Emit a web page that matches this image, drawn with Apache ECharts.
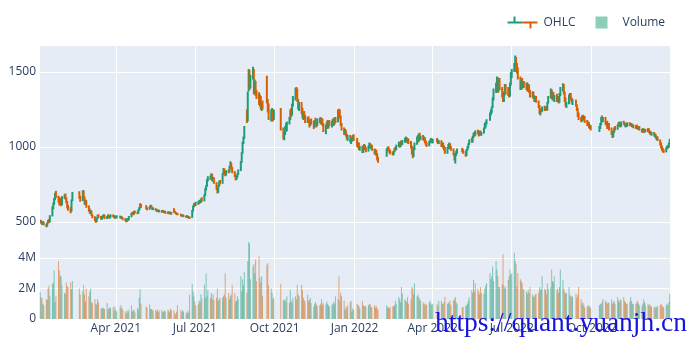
<!DOCTYPE html>
<html><head><meta charset="utf-8">
<script src="https://cdn.jsdelivr.net/npm/echarts@6/dist/echarts.min.js"></script>
<style>html,body{margin:0;padding:0;background:#fff}#c{width:700px;height:350px}</style>
</head><body><div id="c"></div>
<script>
// ---- trading calendar (A-share), first/last day and exchange holidays on weekdays ----
const firstDay = '2021-01-04';
const lastDay = '2022-12-30';
const holidays = ['2021-01-01','2021-02-11','2021-02-12','2021-02-15','2021-02-16','2021-02-17','2021-04-05',
  '2021-05-03','2021-05-04','2021-05-05','2021-06-14','2021-09-20','2021-09-21','2021-10-01','2021-10-04',
  '2021-10-05','2021-10-06','2021-10-07','2022-01-03','2022-01-31','2022-02-01','2022-02-02','2022-02-03',
  '2022-02-04','2022-04-04','2022-04-05','2022-05-02','2022-05-03','2022-05-04','2022-06-03','2022-09-12',
  '2022-10-03','2022-10-04','2022-10-05','2022-10-06','2022-10-07'];

// x tick labels (quarter starts)
const tickDates = ['2021-04-01','2021-07-01','2021-10-01','2022-01-01','2022-04-01','2022-07-01','2022-10-01'];
const priceTicks = [500, 1000, 1500];
const volumeTicks = [0, 2, 4];

// ---- daily [open, high, low, close] ----
const ohlc2021 = [
// Jan
[500,515,492,508],[508,512,490,495],[495,500,480,488],[488,505,482,500],[500,503,478,482],
[482,488,465,472],[472,498,470,495],[495,515,490,510],[510,520,495,500],[500,545,498,540],
[540,605,538,600],[600,630,585,622],[622,660,615,655],[655,695,645,688],[688,708,660,670],
[670,675,630,640],[640,665,610,625],[625,660,620,655],[655,662,605,615],[615,672,612,665],
// Feb
[665,685,655,680],[680,690,650,655],[655,665,625,630],[630,640,590,600],[600,615,575,585],
[585,600,558,575],[575,650,570,645],[645,700,640,695],
[700,705,655,665],[665,675,635,645],
[645,712,640,705],[705,710,655,665],[665,670,615,625],[625,650,615,640],[640,645,595,605],
// Mar
[605,610,570,578],[578,590,555,560],[560,580,555,572],[572,575,540,545],[545,550,525,535],
[535,538,505,510],[510,515,495,502],[502,530,500,525],[525,548,520,545],[545,550,528,535],
[535,540,515,520],[520,535,515,530],[530,545,525,540],[540,552,535,545],[545,548,520,525],
[525,540,520,535],[535,550,530,545],[545,548,525,530],[530,540,522,535],[535,550,530,545],
[545,550,532,540],[540,545,525,530],[530,542,525,535],
// Apr
[535,540,522,528],[528,545,525,540],
[540,542,525,530],[530,540,522,535],[535,538,520,525],[525,530,512,520],
[520,525,505,512],[512,515,498,505],[505,525,502,520],[520,525,508,515],[515,540,512,535],
[535,560,532,555],[555,568,548,560],[560,565,545,552],[552,575,550,570],[570,575,558,565],
[565,570,552,560],[560,585,555,580],[580,600,575,595],[595,625,590,615],[615,620,595,600],
// May
[605,612,585,590],[590,598,578,585],
[585,605,582,600],[600,615,595,610],[610,612,590,595],[595,600,580,585],[585,595,580,590],
[590,592,575,580],[580,585,568,575],[575,585,570,580],[580,582,565,570],[570,580,565,575],
[575,578,562,568],[568,580,565,575],[575,578,560,565],[565,575,560,570],[570,572,555,560],
[560,570,555,565],
// Jun
[565,568,552,558],[558,570,555,565],[565,568,550,555],[555,565,550,560],
[588,592,562,570],[570,575,560,565],[565,568,552,558],[558,562,548,555],[555,560,545,550],
[550,555,538,545],[545,550,535,540],[540,550,535,546],[546,548,532,538],
[538,542,528,535],[535,545,530,540],[540,542,525,530],[530,538,525,534],[534,536,520,528],
[530,580,528,575],[575,610,570,605],[605,625,598,620],
// Jul
[620,628,605,612],[612,635,608,630],
[630,638,615,625],[625,645,620,640],[640,648,625,632],[632,655,628,650],[650,665,635,640],
[640,685,638,680],[680,725,675,720],[720,745,710,740],[740,785,735,780],[780,805,770,800],
[800,810,780,790],[790,825,785,815],[815,820,770,780],[780,800,770,795],[795,798,755,760],
[760,765,715,720],[720,728,690,700],[700,745,695,740],[740,775,735,770],[770,780,750,760],
// Aug
[760,825,755,820],[820,860,815,850],[850,858,820,830],[830,840,805,815],[815,845,810,840],
[840,850,825,835],[835,875,830,870],[870,905,862,890],[890,895,850,860],[860,868,825,835],
[835,840,800,810],[810,815,778,785],[785,805,780,800],[800,825,795,820],[820,850,815,845],
[845,905,840,900],[900,965,895,960],[960,1035,955,1030],[1030,1070,1020,1060],[1060,1140,1055,1130],
[1190,1250,1160,1170],[1175,1370,1170,1360],
// Sep
[1380,1520,1370,1470],[1490,1515,1380,1400],[1400,1480,1390,1460],
[1460,1535,1450,1510],[1510,1520,1350,1370],[1370,1450,1355,1430],[1430,1440,1340,1355],[1355,1380,1320,1345],
[1345,1365,1280,1300],[1300,1350,1270,1330],[1330,1340,1250,1270],[1270,1300,1240,1290],[1290,1310,1250,1260],
[1460,1475,1290,1300],[1300,1320,1230,1250],[1250,1290,1180,1190],
[1190,1250,1170,1230],[1230,1260,1180,1240],[1240,1250,1170,1185],[1185,1250,1180,1240],
// Oct
[1250,1260,1110,1120],
[1120,1130,1050,1070],[1070,1100,1045,1090],[1090,1140,1080,1130],[1130,1160,1100,1110],[1110,1170,1105,1160],
[1160,1200,1150,1190],[1190,1250,1180,1240],[1240,1260,1200,1215],[1215,1290,1210,1280],[1280,1340,1270,1320],
[1320,1395,1310,1380],[1380,1400,1330,1350],[1350,1390,1300,1310],[1310,1320,1250,1270],[1270,1300,1240,1290],
// Nov
[1290,1300,1220,1240],[1240,1260,1190,1200],[1200,1230,1180,1220],[1220,1240,1190,1200],[1200,1215,1160,1175],
[1175,1200,1160,1195],[1195,1205,1160,1170],[1170,1180,1130,1145],[1145,1185,1140,1180],[1180,1190,1150,1160],
[1160,1175,1120,1135],[1135,1180,1130,1170],[1170,1195,1150,1160],[1160,1170,1130,1150],[1150,1190,1140,1180],
[1180,1195,1160,1185],[1185,1200,1150,1165],[1165,1190,1155,1180],[1180,1190,1140,1150],[1150,1160,1100,1110],
[1110,1150,1085,1140],[1140,1170,1130,1160],
// Dec
[1160,1180,1120,1130],[1130,1175,1125,1170],[1170,1180,1140,1150],
[1150,1175,1130,1165],[1165,1190,1150,1180],[1180,1185,1140,1155],[1155,1200,1150,1190],[1190,1200,1160,1170],
[1170,1250,1165,1240],[1240,1255,1200,1215],[1215,1250,1190,1200],[1200,1210,1140,1150],[1150,1160,1110,1120],
[1120,1130,1080,1095],[1095,1120,1085,1110],[1110,1115,1070,1080],[1080,1090,1050,1060],[1060,1080,1040,1075],
[1075,1080,1030,1040],[1040,1060,1020,1055],[1055,1070,1035,1060],[1060,1080,1050,1075],[1075,1085,1040,1050]
];

const ohlc2022 = [
// Jan
[1050,1060,1000,1010],[1010,1030,995,1025],[1025,1030,980,990],[990,1005,975,1000],
[1000,1010,960,970],[970,1000,960,995],[995,1020,985,1010],[1010,1015,980,990],[990,1000,965,975],
[975,1010,970,1005],[1005,1030,995,1020],[1020,1025,990,995],[995,1015,985,1010],[1010,1015,975,980],
[980,990,950,960],[960,985,950,975],[975,980,940,950],[950,960,910,925],[925,935,895,905],
// Feb
[940,990,935,985],[985,1000,970,995],[995,1005,975,980],[980,990,960,970],[970,980,950,960],
[960,970,945,950],[950,975,945,970],[970,995,965,990],[990,1000,975,985],[985,1015,980,1010],
[1010,1035,1000,1025],[1025,1030,995,1005],[1005,1040,1000,1035],[1035,1045,1010,1020],[1020,1045,1015,1040],
[1040,1060,1030,1050],
// Mar
[1050,1070,1030,1060],[1060,1065,1030,1040],[1040,1060,1025,1050],[1050,1055,1020,1030],
[1030,1040,990,1000],[1000,1010,950,965],[965,980,925,940],[940,1000,935,990],[990,1030,980,1020],
[1020,1070,1015,1060],[1060,1080,1030,1040],[1040,1090,1035,1085],[1085,1095,1050,1060],[1060,1075,1045,1070],
[1070,1080,1045,1055],[1055,1070,1040,1060],[1060,1065,1025,1035],[1035,1045,1010,1020],[1020,1030,1000,1010],
[1010,1040,1005,1035],[1035,1050,1025,1045],[1045,1060,1035,1050],[1050,1055,1025,1030],
// Apr
[1030,1055,1025,1050],
[1050,1060,1030,1040],[1040,1050,1020,1025],[1025,1045,1020,1040],
[1040,1045,1000,1005],[1005,1030,1000,1025],[1025,1030,990,995],[995,1010,975,985],[985,1000,955,960],
[960,1000,955,995],[995,1020,985,1010],[1010,1030,1000,1020],[1020,1025,985,990],[990,1005,975,985],
[985,990,945,950],[950,960,910,925],[925,960,890,950],[950,975,940,965],[965,990,955,980],
// May
[980,995,965,975],[975,985,955,965],
[965,975,935,945],[945,985,940,980],[980,1005,975,1000],[1000,1025,990,1020],[1020,1050,1015,1045],
[1045,1060,1030,1035],[1035,1075,1030,1070],[1070,1095,1060,1090],[1090,1100,1070,1080],[1080,1110,1075,1105],
[1105,1115,1085,1090],[1090,1110,1070,1080],[1080,1105,1075,1100],[1100,1110,1080,1085],[1085,1100,1075,1095],
[1095,1130,1090,1125],[1125,1160,1120,1150],
// Jun
[1150,1170,1130,1160],[1160,1185,1150,1180],
[1180,1230,1175,1225],[1225,1250,1210,1240],[1240,1270,1225,1265],[1265,1330,1260,1320],[1320,1390,1310,1380],
[1380,1430,1360,1410],[1410,1470,1380,1440],[1440,1465,1360,1380],[1380,1460,1370,1450],[1450,1460,1380,1390],
[1390,1400,1330,1340],[1340,1370,1300,1310],[1310,1360,1300,1350],[1350,1420,1345,1410],[1410,1420,1350,1360],
[1360,1400,1340,1390],[1390,1400,1330,1340],[1340,1430,1335,1420],[1420,1500,1410,1490],
// Jul
[1490,1520,1460,1510],
[1510,1560,1500,1550],[1550,1610,1540,1590],[1590,1600,1500,1520],[1520,1560,1490,1500],[1500,1530,1450,1460],
[1460,1470,1380,1400],[1400,1450,1380,1440],[1440,1460,1400,1410],[1410,1440,1390,1420],[1420,1440,1395,1400],
[1400,1430,1380,1420],[1420,1430,1370,1380],[1380,1420,1370,1410],[1410,1415,1360,1370],[1370,1380,1330,1340],
[1340,1370,1330,1360],[1360,1370,1320,1330],[1330,1345,1300,1310],[1310,1340,1300,1330],[1330,1340,1295,1305],
// Aug
[1305,1310,1260,1270],[1270,1280,1220,1230],[1230,1250,1210,1245],[1245,1260,1230,1240],[1240,1270,1235,1265],
[1265,1275,1240,1250],[1250,1270,1245,1265],[1265,1270,1240,1250],[1250,1300,1245,1295],[1295,1340,1290,1330],
[1330,1390,1325,1375],[1375,1385,1320,1330],[1330,1370,1310,1360],[1360,1365,1320,1330],[1330,1345,1300,1340],
[1340,1355,1300,1310],[1310,1340,1300,1335],[1335,1340,1290,1300],[1300,1360,1295,1350],[1350,1400,1340,1390],
[1390,1425,1370,1410],[1410,1420,1350,1360],[1360,1370,1300,1310],
// Sep
[1310,1330,1270,1280],[1280,1300,1260,1290],
[1290,1350,1285,1340],[1340,1360,1320,1350],[1350,1360,1310,1320],[1320,1330,1290,1300],[1300,1320,1280,1310],
[1310,1315,1270,1280],[1280,1285,1240,1250],[1250,1260,1200,1210],[1210,1230,1180,1190],
[1190,1200,1165,1175],[1175,1210,1170,1205],[1205,1215,1180,1190],[1190,1210,1175,1200],[1200,1205,1160,1170],
[1170,1180,1140,1150],[1150,1170,1140,1160],[1160,1165,1125,1135],[1135,1150,1120,1140],[1140,1145,1110,1120],
// Oct
[1120,1140,1100,1130],[1130,1160,1120,1150],[1150,1200,1145,1190],[1190,1210,1170,1180],[1180,1200,1165,1195],
[1195,1200,1150,1160],[1160,1170,1140,1150],[1150,1175,1120,1130],[1130,1160,1125,1155],[1155,1160,1110,1120],
[1120,1130,1080,1090],[1090,1100,1060,1070],[1070,1110,1065,1100],[1100,1130,1095,1125],[1125,1140,1110,1120],
[1120,1150,1115,1145],
// Nov
[1145,1165,1135,1160],[1160,1170,1140,1150],[1150,1160,1130,1140],[1140,1170,1135,1165],
[1165,1175,1150,1160],[1160,1165,1140,1145],[1145,1155,1130,1150],[1150,1160,1135,1140],[1140,1165,1135,1155],
[1155,1165,1140,1145],[1145,1160,1140,1155],[1155,1160,1135,1140],[1140,1150,1130,1145],[1145,1150,1125,1130],
[1130,1145,1120,1140],[1140,1150,1125,1135],[1135,1140,1115,1120],[1120,1140,1115,1135],[1135,1140,1110,1115],
[1115,1120,1095,1105],[1105,1125,1100,1120],[1120,1125,1095,1100],
// Dec
[1100,1120,1095,1115],[1115,1120,1100,1105],
[1105,1125,1100,1120],[1120,1125,1095,1100],[1100,1110,1085,1095],[1095,1105,1080,1085],[1085,1100,1075,1095],
[1095,1100,1070,1075],[1075,1090,1065,1080],[1080,1085,1055,1060],[1060,1070,1045,1065],[1065,1070,1040,1045],
[1045,1050,1010,1020],[1020,1030,990,1000],[1000,1010,975,985],[985,995,965,975],[975,985,960,970],
[970,1000,965,995],[995,1010,985,1005],[1005,1015,990,1000],[1000,1030,995,1025],[1025,1055,1020,1045]
];

// ---- daily volume, millions ----
const volume2021 = [
1.75,1.4,1.4,1.0,0.9, 1.3,1.25,2.0,2.2,1.5, 2.3,2.4,3.2,1.1,1.5, 3.8,3.2,2.85,2.8,2.2,
1.7,1.65,2.4,2.15,2.1, 2.4,1.95,2.5, 2.0,1.6, 1.8,2.25,1.6,1.15,2.0,
1.5,1.8,2.0,1.1,1.05, 1.3,1.0,0.95,1.3,1.1, 0.65,0.75,0.7,0.7,0.65, 1.05,0.6,0.7,0.75,0.7, 0.8,0.55,0.8,
0.6,0.5, 0.75,0.9,0.7,0.6, 0.5,0.35,0.55,0.45,0.6, 0.9,0.5,0.55,0.6,0.45, 0.7,0.6,1.4,1.95,1.0,
0.8,0.75, 0.95,0.65,0.65,0.6,0.55, 0.6,0.5,0.6,0.45,0.55, 0.6,0.45,0.5,0.55,0.5, 0.6,
0.55,0.45,0.65,0.6, 0.55,0.4,0.3,0.5,0.9, 0.6,0.45,0.55,0.5, 0.35,0.45,0.55,0.4,1.6, 2.3,1.8,1.5,
1.15,0.9, 0.95,1.2,1.1,1.6,1.35, 2.25,1.4,3.0,1.5,1.9, 1.4,1.7,1.3,1.6,1.25, 1.4,2.0,1.2,1.3,1.4,
1.4,1.5,1.6,3.0,1.4, 1.7,1.3,1.5,1.6,2.25, 1.7,1.15,1.2,1.5,1.3, 2.8,1.8,2.6,2.2,3.1, 1.7,3.8,
5.05,4.95,2.6, 3.45,3.6,3.0,3.9,2.5, 4.1,2.7,2.4,2.8,1.5, 3.55,3.65,2.2, 2.0,1.7,1.3,1.4,
2.3, 1.25,1.2,1.3,1.1,1.5, 1.05,1.9,1.2,1.1,1.4, 1.5,1.3,2.25,1.6,1.5,
2.25,1.9,1.4,1.25,1.15, 1.6,1.2,1.25,1.4,1.05, 0.8,1.0,1.1,0.95,0.85, 0.9,1.0,1.3,0.9,1.05, 0.95,1.15,
1.0,0.9,0.8, 0.9,1.0,1.15,1.0,1.5, 1.3,2.8,1.2,1.7,1.5, 1.2,0.6,0.8,0.7,0.9, 1.1,1.2,0.5,0.7,0.6
];
const volume2022 = [
1.0,0.9,0.85,0.7, 1.2,0.9,0.85,0.85,0.8, 0.9,0.95,1.0,0.8,0.75, 0.9,0.75,0.85,0.7,0.6,
0.9,0.75,0.75,0.7,0.8, 0.85,0.8,0.9,1.2,1.0, 1.45,1.3,1.1,2.1,1.65, 1.3,
1.2,1.1,1.45,1.0, 1.3,2.1,2.0,1.6,2.35, 1.5,1.6,1.45,1.3,1.2, 1.1,1.0,1.0,0.9,0.95, 1.1,1.2,1.0,0.9,
1.0, 1.0,0.85,1.2, 1.2,1.0,0.95,1.1,1.45, 1.0,1.1,1.0,1.2,0.9, 1.2,1.3,1.45,1.1,1.0,
0.75,0.8, 0.85,0.9,1.0,1.2,1.45, 1.9,1.7,2.55,1.8,2.35, 2.0,1.8,1.6,2.1,1.7, 1.65,2.0,
2.2,2.35, 3.0,2.6,2.8,3.45,2.5, 3.8,3.25,2.8,2.1,2.1, 2.3,4.25,2.2,2.0,2.1, 2.55,2.8,3.25,2.9,
3.0, 4.35,3.8,3.6,2.1,3.0, 2.6,2.5,2.35,2.0,1.9, 1.8,1.65,1.9,1.7,2.1, 1.6,1.45,1.5,1.6,1.65,
1.7,2.1,1.9,2.0,2.8, 2.0,1.9,1.6,2.35,2.0, 2.1,3.25,2.5,2.4,2.8, 1.9,2.0,1.7,2.1,3.25, 2.55,2.0,1.8,
1.65,1.7, 2.1,1.6,1.5,1.45,1.5, 1.65,1.4,1.6,2.1, 1.3,1.0,1.1,0.9,0.75, 0.8,0.9,0.85,0.8,0.7,
0.9,0.95,1.0,1.1,1.3, 1.2,1.1,1.0,1.1,1.05, 1.3,1.0,1.1,1.2,1.0, 1.45,
1.2,1.1,1.3,1.25, 1.45,1.2,1.1,1.0,1.0, 1.1,1.45,1.2,1.0,1.0, 1.0,1.1,1.2,1.0,0.9, 0.85,1.0,1.3,
1.1,0.9, 1.0,0.9,0.95,0.85,0.8, 0.75,0.8,0.7,0.8,0.85, 0.9,1.0,0.9,0.8,0.75, 0.9,1.0,0.9,1.1,1.65
];

// ---- build ----
const DAY = 86400000;
const UP = '#1b9e77', DOWN = '#d95f02';
const UP_V = 'rgba(27,158,119,0.5)', DOWN_V = 'rgba(217,95,2,0.5)';
const parseD = s => { const p = s.split('-').map(Number); return Date.UTC(p[0], p[1]-1, p[2]); };
const holidaySet = new Set(holidays);
const dates = [];
for (let t = parseD(firstDay); t <= parseD(lastDay); t += DAY) {
  const d = new Date(t); const wd = d.getUTCDay();
  if (wd === 0 || wd === 6) continue;
  if (holidaySet.has(d.toISOString().slice(0,10))) continue;
  dates.push(t);
}
const ohlc = ohlc2021.concat(ohlc2022);
const volume = volume2021.concat(volume2022);
const n = Math.min(dates.length, ohlc.length, volume.length);
const ohlcData = [], volData = [];
for (let i = 0; i < n; i++) {
  const r = ohlc[i];
  ohlcData.push([dates[i], r[0], r[1], r[2], r[3]]);
  volData.push({ value: [dates[i], volume[i]], itemStyle: { color: r[3] >= r[0] ? UP_V : DOWN_V } });
}
const xMin = dates[0] - 0.3 * DAY, xMax = dates[n-1] + 0.3 * DAY;
const xTicks = tickDates.map(parseD);
const MONTHS = ['Jan','Feb','Mar','Apr','May','Jun','Jul','Aug','Sep','Oct','Nov','Dec'];
const FONT = '"Open Sans", "Noto Sans", sans-serif';
const TXT = '#2a3f5f';

function renderOHLC(params, api) {
  const t = api.value(0), o = api.value(1), h = api.value(2), l = api.value(3), c = api.value(4);
  const pH = api.coord([t, h]), pL = api.coord([t, l]), pO = api.coord([t, o]), pC = api.coord([t, c]);
  const tk = api.size([0.3 * DAY, 0])[0];
  const col = c >= o ? UP : DOWN;
  const st = { stroke: col, lineWidth: 2 };
  return { type: 'group', children: [
    { type: 'line', shape: { x1: pH[0], y1: pH[1], x2: pL[0], y2: pL[1] }, style: st },
    { type: 'line', shape: { x1: pO[0] - tk, y1: pO[1], x2: pO[0], y2: pO[1] }, style: st },
    { type: 'line', shape: { x1: pC[0], y1: pC[1], x2: pC[0] + tk, y2: pC[1] }, style: st }
  ]};
}

const chart = echarts.init(document.getElementById('c'), null, { renderer: 'canvas' });
const xCommon = {
  type: 'value', min: xMin, max: xMax,
  axisLine: { show: false },
  axisTick: { show: false, customValues: xTicks },
  splitLine: { show: true, lineStyle: { color: '#ffffff', width: 1 } }
};
chart.setOption({
  animation: false,
  textStyle: { fontFamily: FONT },
  grid: [
    { left: 40, width: 630, top: 46, height: 193, show: true, backgroundColor: '#E5ECF6', borderWidth: 0 },
    { left: 40, width: 630, top: 239, height: 80, show: true, backgroundColor: '#E5ECF6', borderWidth: 0 }
  ],
  xAxis: [
    Object.assign({ gridIndex: 0, axisLabel: { show: false, customValues: xTicks } }, xCommon),
    Object.assign({ gridIndex: 1, axisLabel: { show: true, customValues: xTicks, color: TXT, fontSize: 12, fontFamily: FONT, margin: 4,
      formatter: v => { const d = new Date(v); return MONTHS[d.getUTCMonth()] + ' ' + d.getUTCFullYear(); } } }, xCommon)
  ],
  yAxis: [
    { type: 'value', gridIndex: 0, min: 386.7, max: 1673.3,
      axisLine: { show: false }, axisTick: { show: false, customValues: priceTicks },
      axisLabel: { customValues: priceTicks, color: TXT, fontSize: 12, fontFamily: FONT, margin: 4,
        formatter: v => String(v) },
      splitLine: { show: true, lineStyle: { color: '#ffffff', width: 1 } } },
    { type: 'value', gridIndex: 1, min: 0, max: 5.246,
      axisLine: { show: false }, axisTick: { show: false, customValues: volumeTicks },
      axisLabel: { customValues: volumeTicks, color: TXT, fontSize: 12, fontFamily: FONT, margin: 4,
        formatter: v => v === 0 ? '0' : v + 'M' },
      splitLine: { show: true, lineStyle: { color: '#ffffff', width: 1 } } }
  ],
  series: [
    { name: 'OHLC', type: 'custom', xAxisIndex: 0, yAxisIndex: 0, renderItem: renderOHLC,
      encode: { x: 0, y: [1, 2, 3, 4] }, data: ohlcData, clip: true, z: 3 },
    { name: 'Volume', type: 'bar', xAxisIndex: 1, yAxisIndex: 1, data: volData, barWidth: 0.8, z: 2 }
  ],
  graphic: [
    { type: 'group', left: 505, top: 14, z: 100, children: [
      { type: 'line', shape: { x1: 5, y1: 12, x2: 20, y2: 12 }, style: { stroke: UP, lineWidth: 2 } },
      { type: 'line', shape: { x1: 12, y1: 6, x2: 12, y2: 12 }, style: { stroke: UP, lineWidth: 2 } },
      { type: 'line', shape: { x1: 20, y1: 12, x2: 35, y2: 12 }, style: { stroke: DOWN, lineWidth: 2 } },
      { type: 'line', shape: { x1: 28, y1: 12, x2: 28, y2: 18 }, style: { stroke: DOWN, lineWidth: 2 } },
      { type: 'text', x: 41, y: 12, style: { text: 'OHLC', fill: TXT, font: '12px ' + FONT, verticalAlign: 'middle' } },
      { type: 'rect', shape: { x: 93, y: 6, width: 12, height: 12 }, style: { fill: UP_V } },
      { type: 'text', x: 120, y: 12, style: { text: 'Volume', fill: TXT, font: '12px ' + FONT, verticalAlign: 'middle' } }
    ]},
    { type: 'text', left: 435, top: 310, z: 200,
      style: { text: 'https://quant.yuanjh.cn', fill: '#1414dc', font: '27.5px "Liberation Serif", "DejaVu Serif", serif' } }
  ]
});
</script>
</body></html>
